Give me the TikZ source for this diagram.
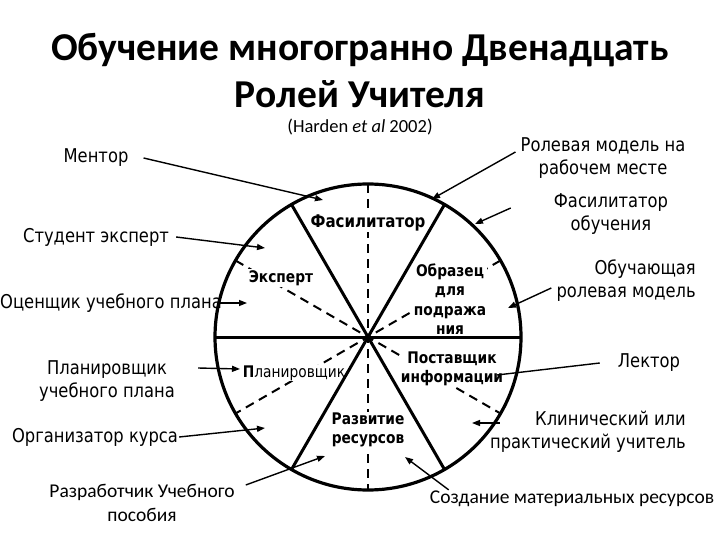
\documentclass[tikz,border=0pt]{standalone}
\usepackage{fontspec}
\setmainfont{DejaVu Sans}
\newfontfamily\tah[FakeStretch=0.86]{DejaVu Sans}
\newfontfamily\calib{Carlito}
\usetikzlibrary{arrows.meta,calc}
\begin{document}
\begin{tikzpicture}[x=1pt,y=-1pt,
  outer/.style={font=\tah\fontsize{19}{23}\selectfont, align=center, inner sep=1pt},
  outercal/.style={font=\calib\fontsize{19.5}{24}\selectfont, align=center, inner sep=1pt},
  inner/.style={font=\tah\bfseries\fontsize{16}{19.5}\selectfont, align=center, fill=white, inner sep=1pt},
  conn/.style={line width=1.4pt, -{Triangle[length=8pt,width=6pt]}},
  rim/.style={line width=3.2pt},
  spoke/.style={line width=3pt},
  guide/.style={line width=2pt, dash pattern=on 9pt off 6pt}]
\useasboundingbox (0,0) rectangle (720,540);
\coordinate (C) at (368,337);
% dashed guides
\draw[guide] ([shift={(90:153pt)}]C) -- ([shift={(270:153pt)}]C);
\draw[guide] ([shift={(30:153pt)}]C) -- ([shift={(210:153pt)}]C);
\draw[guide] ([shift={(150:153pt)}]C) -- ([shift={(330:153pt)}]C);
% inner labels
\node[inner, font=\tah\bfseries\fontsize{17.5}{21}\selectfont] (fas) at (368,223) {Фасилитатор};
\node[inner] (exp) at (281,278) {Эксперт};
\node[inner] (obr) at (450,299) {Образец\\для\\подража\\ния};
\node[inner] (post) at (452,369) {Поставщик\\информации};
\node[inner, font=\tah\fontsize{16}{19}\selectfont] (plan) at (294,373) {{\bfseries П}ланировщик};
\node[inner] (razv) at (368,430) {Развитие\\ресурсов};
% circle and spokes
\draw[spoke] ([shift={(0:153pt)}]C) -- ([shift={(180:153pt)}]C);
\draw[spoke] ([shift={(60:153pt)}]C) -- ([shift={(240:153pt)}]C);
\draw[spoke] ([shift={(120:153pt)}]C) -- ([shift={(300:153pt)}]C);
\draw[rim] (C) circle[radius=153pt];
% titles
\node[font=\calib\bfseries\fontsize{39.5}{45}\selectfont] (t1) at (360,50) {Обучение многогранно Двенадцать};
\node[font=\calib\bfseries\fontsize{39.5}{45}\selectfont] (t2) at (360,94) {Ролей Учителя};
\node[font=\calib\fontsize{18.5}{22}\selectfont] (ref) at (360,127) {(Harden \textit{et al} 2002)};
% outer labels
\node[outer] (mentor) at (96,158) {Ментор};
\node[outer] (student) at (96,237) {Студент эксперт};
\node[outer] (ocen) at (111,303) {Оценщик учебного плана};
\node[outer] (planU) at (107,381) {Планировщик\\учебного плана};
\node[outer] (org) at (95,437) {Организатор курса};
\node[outercal] (razr) at (142,503) {Разработчик Учебного\\пособия};
\node[outer] (rolev) at (603,158) {Ролевая модель на\\рабочем месте};
\node[outer] (fasob) at (611,214) {Фасилитатор\\обучения};
\node[outer, align=right, anchor=east] (obuch) at (697,281) {Обучающая\\ролевая модель};
\node[outer] (lector) at (649,363) {Лектор};
\node[outer, align=right, anchor=east] (klin) at (687,432) {Клинический или\\практический учитель};
\node[outercal] (sozd) at (572,499) {Создание материальных ресурсов};
% arrow targets
\coordinate (tMentor) at (323,200);
\coordinate (tStudent) at (265,248);
\coordinate (tOcen) at (247,303);
\coordinate (tPlan) at (240,369);
\coordinate (tOrg) at (265,428);
\coordinate (tRazr) at (325,456);
\coordinate (tRolev) at (432,199);
\coordinate (tFasob) at (475,224);
\coordinate (tObuch) at (508,308);
\coordinate (tLector) at (497,375);
\coordinate (tKlin) at (472,423);
\coordinate (tSozd) at (405,457);
% connectors
\draw[conn] ([xshift=14pt]mentor.east) -- (tMentor);
\draw[conn] ([xshift=6pt]student.east) -- (tStudent);
\draw[conn] ([xshift=-3pt]ocen.east) -- (tOcen);
\draw[conn] ([xshift=22pt,yshift=13pt]planU.east) -- (tPlan);
\draw[conn] (org.east) -- (tOrg);
\draw[conn] ([xshift=10pt,yshift=18pt]razr.east) -- (tRazr);
\draw[conn] ([xshift=-4pt,yshift=6pt]rolev.west) -- (tRolev);
\draw[conn] ([xshift=-42pt,yshift=6pt]fasob.west) -- (tFasob);
\draw[conn] ([xshift=-4pt,yshift=-7pt]obuch.west) -- (tObuch);
\draw[line width=1.4pt] ([xshift=-17pt]lector.west) -- (tLector);
\draw[conn] ([xshift=11pt,yshift=9pt]klin.west) -- (tKlin);
\draw[conn] ([xshift=20pt]sozd.north west) -- (tSozd);
\end{tikzpicture}
\end{document}
